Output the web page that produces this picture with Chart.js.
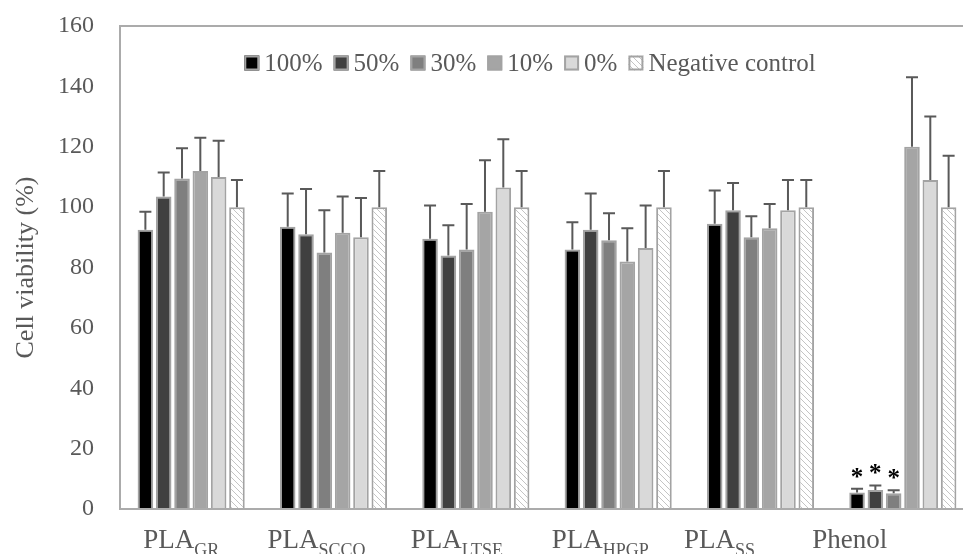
<!DOCTYPE html>
<html lang="en">
<head>
<meta charset="UTF-8">
<title>Cell viability</title>
<script src="https://cdn.jsdelivr.net/npm/chart.js@4.4.1/dist/chart.umd.min.js"></script>
<style>
    html, body { margin: 0; padding: 0; background: #ffffff; overflow: hidden; }
    #chartWrap { position: relative; width: 980px; height: 554px; }
</style>
</head>
<body>
<div id="chartWrap"><canvas id="viabilityChart"></canvas></div>
<script>
// ===== DADOS =====
const groupNames = ['PLA', 'PLA', 'PLA', 'PLA', 'PLA', 'Phenol'];
const groupSubs = ['GR', 'SCCO', 'LTSE', 'HPGP', 'SS', ''];
const concentrations = ['100%', '50%', '30%', '10%', '0%', 'Negative control'];

const mean100 = [92.5, 93.5, 89.5, 86, 94.5, 5.5];
const mean50 = [103.5, 91, 84, 92.5, 99, 6.3];
const mean30 = [109.5, 85, 86, 89, 90, 5.2];
const mean10 = [112, 91.5, 98.5, 82, 93, 120];
const mean0 = [110, 90, 106.5, 86.5, 99, 109];
const meanNeg = [100, 100, 100, 100, 100, 100];

const err100 = [6, 11, 11, 9, 11, 1.2];
const err50 = [8, 15, 10, 12, 9, 1.5];
const err30 = [10, 14, 15, 9, 7, 1];
const err10 = [11, 12, 17, 11, 8, 23];
const err0 = [12, 13, 16, 14, 10, 21];
const errNeg = [9, 12, 12, 12, 9, 17];

const yMax = 160;
const yStep = 20;

// grupo / séries marcadas com asterisco
const starredGroup = 5;
const starredSeries = ['100%', '50%', '30%'];

// ===== ESTILO =====
const textColor = '#595959';
const axisColor = '#ababab';
const barBorder = '#a3a3a3';
const fontFamily = '"Liberation Serif", "Times New Roman", serif';
const labelShift = [-10, -17, -19, -18, -41, -53];

function makeHatch() {
    const size = 6;
    const c = document.createElement('canvas');
    c.width = size;
    c.height = size;
    const g = c.getContext('2d');
    g.fillStyle = '#ffffff';
    g.fillRect(0, 0, size, size);
    g.strokeStyle = '#c4c4c4';
    g.lineWidth = 1;
    g.beginPath();
    g.moveTo(-1, -1); g.lineTo(size + 1, size + 1);
    g.moveTo(-1, size - 1); g.lineTo(1, size + 1);
    g.moveTo(size - 1, -1); g.lineTo(size + 1, 1);
    g.stroke();
    return document.createElement('canvas').getContext('2d').createPattern(c, 'repeat');
}

const seriesFill = ['#000000', '#404040', '#7f7f7f', '#a5a5a5', '#d9d9d9', makeHatch()];
const seriesMeans = [mean100, mean50, mean30, mean10, mean0, meanNeg];
const seriesErrs = [err100, err50, err30, err10, err0, errNeg];

// ===== PLUGINS =====
const errorBars = {
    id: 'errorBars',
    afterDatasetsDraw(chart) {
        const ctx = chart.ctx;
        const yScale = chart.scales.y;
        ctx.save();
        ctx.strokeStyle = textColor;
        ctx.lineWidth = 2;
        chart.data.datasets.forEach((ds, i) => {
            const meta = chart.getDatasetMeta(i);
            meta.data.forEach((bar, j) => {
                const top = yScale.getPixelForValue(ds.data[j] + ds.errors[j]);
                ctx.beginPath();
                ctx.moveTo(bar.x, bar.y);
                ctx.lineTo(bar.x, top);
                ctx.moveTo(bar.x - 6, top);
                ctx.lineTo(bar.x + 6, top);
                ctx.stroke();

                if (j === starredGroup && starredSeries.includes(ds.label)) {
                    ctx.fillStyle = '#000000';
                    ctx.font = 'bold 25px ' + fontFamily;
                    ctx.textAlign = 'center';
                    ctx.textBaseline = 'alphabetic';
                    ctx.fillText('*', bar.x, top - 4);
                }
            });
        });
        ctx.restore();
    }
};

const groupLabels = {
    id: 'groupLabels',
    afterDraw(chart) {
        const ctx = chart.ctx;
        const xScale = chart.scales.x;
        ctx.save();
        ctx.fillStyle = textColor;
        ctx.textBaseline = 'alphabetic';
        ctx.textAlign = 'left';
        groupNames.forEach((name, i) => {
            ctx.font = '27px ' + fontFamily;
            const wMain = ctx.measureText(name).width;
            ctx.font = '18px ' + fontFamily;
            const wSub = groupSubs[i] ? ctx.measureText(groupSubs[i]).width : 0;
            const cx = xScale.getPixelForValue(i) + labelShift[i];
            const left = cx - (wMain + wSub) / 2;
            ctx.font = '27px ' + fontFamily;
            ctx.fillText(name, left, 548);
            if (groupSubs[i]) {
                ctx.font = '18px ' + fontFamily;
                ctx.fillText(groupSubs[i], left + wMain, 556);
            }
        });
        ctx.restore();
    }
};

const insideLegend = {
    id: 'insideLegend',
    afterDraw(chart) {
        const ctx = chart.ctx;
        const box = 15;
        const yMid = 63;
        ctx.save();
        ctx.font = '25px ' + fontFamily;
        const widths = chart.data.datasets.map(ds => ctx.measureText(ds.label).width);
        const total = widths.reduce((s, w) => s + box + 5 + w, 0) + 11 * (widths.length - 1);
        let x = 530 - total / 2;
        chart.data.datasets.forEach((ds, i) => {
            ctx.fillStyle = ds.backgroundColor;
            ctx.fillRect(x, yMid - box / 2, box, box);
            ctx.strokeStyle = barBorder;
            ctx.lineWidth = 2;
            ctx.strokeRect(x + 1, yMid - box / 2 + 1, box - 2, box - 2);
            ctx.fillStyle = textColor;
            ctx.textAlign = 'left';
            ctx.textBaseline = 'middle';
            ctx.fillText(ds.label, x + box + 5, yMid + 1);
            x += box + 5 + widths[i] + 11;
        });
        ctx.restore();
    }
};

// ===== GRÁFICO =====
function initChart() {
    const canvas = document.getElementById('viabilityChart');
    new Chart(canvas, {
        type: 'bar',
        data: {
            labels: groupNames.map((n, i) => n + groupSubs[i]),
            datasets: concentrations.map((label, i) => ({
                label: label,
                data: seriesMeans[i],
                errors: seriesErrs[i],
                backgroundColor: seriesFill[i],
                borderColor: barBorder,
                borderWidth: 2,
                categoryPercentage: 0.772,
                barPercentage: 0.85
            }))
        },
        options: {
            responsive: true,
            maintainAspectRatio: false,
            animation: false,
            devicePixelRatio: 1,
            layout: { padding: { top: 26, right: 6, bottom: 0, left: 0 } },
            plugins: {
                legend: { display: false },
                tooltip: { enabled: false }
            },
            scales: {
                x: {
                    grid: { display: false, drawTicks: false },
                    border: { display: true, color: axisColor, width: 2 },
                    ticks: { display: false },
                    afterFit(scale) { scale.height = 45; }
                },
                y: {
                    min: 0,
                    max: yMax,
                    ticks: {
                        stepSize: yStep,
                        padding: 26,
                        color: textColor,
                        font: { family: fontFamily, size: 24 }
                    },
                    grid: {
                        drawTicks: false,
                        lineWidth: 2,
                        color: c => (c.tick && c.tick.value === yMax ? axisColor : 'rgba(0,0,0,0)')
                    },
                    border: { display: true, color: axisColor, width: 2 },
                    title: {
                        display: true,
                        text: 'Cell viability (%)',
                        color: textColor,
                        font: { family: fontFamily, size: 26 },
                        padding: { top: 11, bottom: 0 }
                    },
                    afterFit(scale) {
                        scale.width = 120;
                        scale.paddingTop = 0;
                        scale.paddingBottom = 0;
                    }
                }
            }
        },
        plugins: [errorBars, groupLabels, insideLegend]
    });
}

document.addEventListener('DOMContentLoaded', initChart);
</script>
</body>
</html>
